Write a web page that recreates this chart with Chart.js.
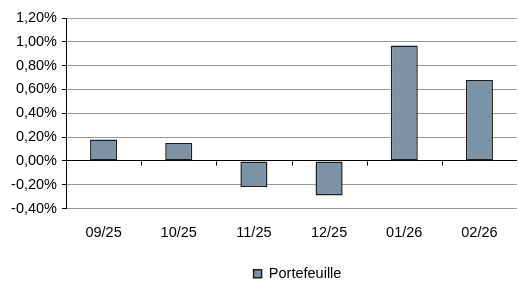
<!DOCTYPE html>
<html>
<head>
<meta charset="utf-8">
<script src="https://cdn.jsdelivr.net/npm/chart.js@4"></script>
<style>
  html, body { margin: 0; padding: 0; background: #fff; }
  #wrap { width: 518px; height: 281px; }
</style>
</head>
<body>
<div id="wrap"><canvas id="perf-chart" width="518" height="281"></canvas></div>
<script>
'use strict';

var monthLabels = ['09/25', '10/25', '11/25', '12/25', '01/26', '02/26'];
var portfolioValues = [0.18, 0.15, -0.22, -0.29, 0.97, 0.68];
var seriesName = 'Portefeuille';
var yMin = -0.4;
var yMax = 1.2;
var yStep = 0.2;

var fontFamily = '"Liberation Sans", Arial, sans-serif';

// NOTE: small tick marks hanging under the zero line, between categories.
var zeroTicksPlugin = {
  id: 'zeroTicks',
  afterDatasetsDraw: function(chart) {
    var ctx = chart.ctx;
    var xScale = chart.scales.x;
    var y0 = Math.round(chart.scales.y.getPixelForValue(0)) + 0.5;
    var half = (xScale.getPixelForTick(1) - xScale.getPixelForTick(0)) / 2;
    ctx.save();
    ctx.strokeStyle = '#000';
    ctx.lineWidth = 1;
    ctx.beginPath();
    for (var i = 1; i < monthLabels.length; i++) {
      var x = Math.round(xScale.getPixelForTick(i) - half) + 0.5;
      ctx.moveTo(x, y0);
      ctx.lineTo(x, y0 + 4);
    }
    ctx.stroke();
    ctx.restore();
  }
};

// NOTE: legend sits centred under the plot area, not under the whole canvas.
var legendShiftPlugin = {
  id: 'legendShift',
  afterLayout: function(chart) {
    var legend = chart.legend;
    if (!legend) return;
    legend.left += 39;
    legend.right += 39;
    legend.top += 10;
    legend.bottom += 10;
  }
};

function formatPercent(value) {
  var v = Math.round(value * 100) / 100;
  return v.toFixed(2).replace('.', ',') + '%';
}

var ctx = document.getElementById('perf-chart').getContext('2d');
var perfChart = new Chart(ctx, {
  type: 'bar',
  data: {
    labels: monthLabels,
    datasets: [{
      label: seriesName,
      data: portfolioValues,
      backgroundColor: '#7b93a5',
      borderColor: '#1e1e1e',
      borderWidth: 1.5,
      borderSkipped: false,
      categoryPercentage: 1,
      barPercentage: 0.36
    }]
  },
  options: {
    responsive: false,
    animation: false,
    layout: {
      padding: { top: 18, right: 1, bottom: 0, left: 0 }
    },
    plugins: {
      tooltip: { enabled: false },
      legend: {
        display: true,
        position: 'bottom',
        labels: {
          boxWidth: 8,
          boxHeight: 8,
          color: '#000',
          padding: 10,
          font: { family: fontFamily, size: 14.5 }
        }
      }
    },
    scales: {
      x: {
        grid: { display: false, drawTicks: false },
        border: { display: false },
        ticks: {
          color: '#000',
          padding: 16,
          maxRotation: 0,
          font: { family: fontFamily, size: 14.5 }
        },
        afterFit: function(scale) { scale.height = 38; }
      },
      y: {
        min: yMin,
        max: yMax,
        grid: {
          color: function(c) {
            return c.tick && Math.abs(c.tick.value) < 1e-9 ? '#000' : '#999';
          },
          lineWidth: 1,
          tickLength: 4,
          tickColor: '#000'
        },
        border: { display: true, color: '#000', width: 1 },
        ticks: {
          stepSize: yStep,
          color: '#000',
          padding: 5,
          font: { family: fontFamily, size: 14.5 },
          callback: function(value) { return formatPercent(value); }
        },
        afterFit: function(scale) { scale.width = 66; }
      }
    }
  },
  plugins: [zeroTicksPlugin, legendShiftPlugin]
});
</script>
</body>
</html>
